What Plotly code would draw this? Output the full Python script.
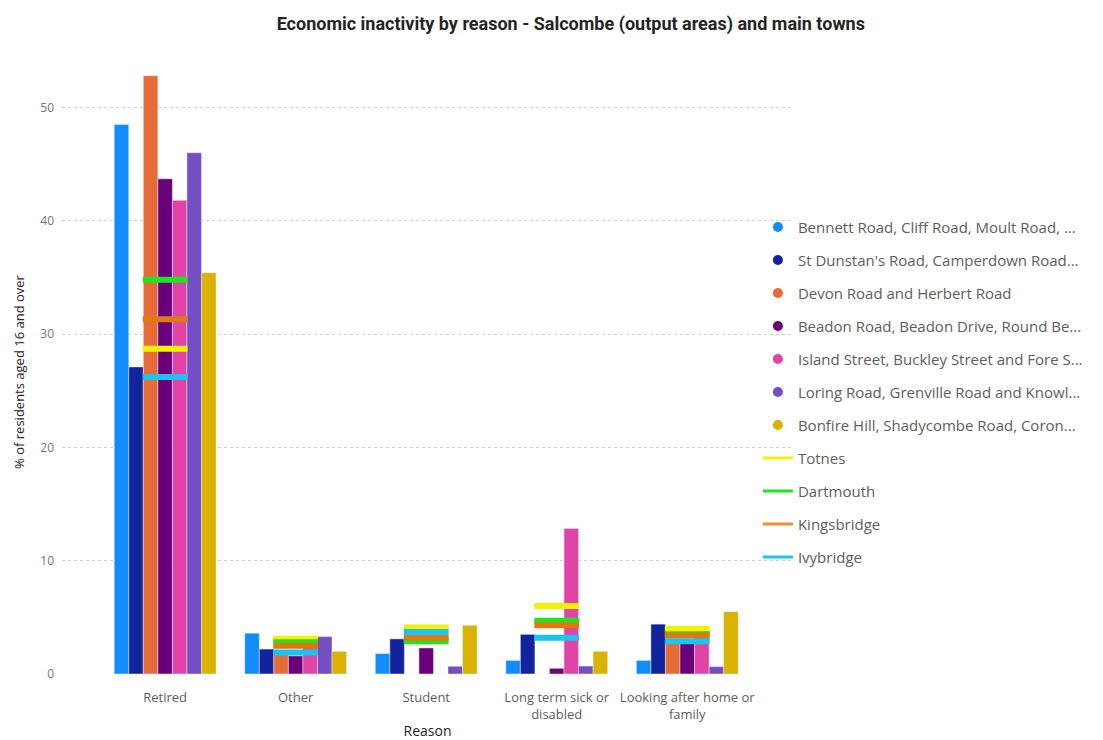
import plotly.graph_objects as go

categories = ["Retired", "Other", "Student", "Long term sick or<br>disabled", "Looking after home or<br>family"]

area_names = [
    "Bennett Road, Cliff Road, Moult Road, ...",
    "St Dunstan's Road, Camperdown Road...",
    "Devon Road and Herbert Road",
    "Beadon Road, Beadon Drive, Round Be...",
    "Island Street, Buckley Street and Fore S...",
    "Loring Road, Grenville Road and Knowl...",
    "Bonfire Hill, Shadycombe Road, Coron...",
]
area_colors = ["#118DFF", "#12239E", "#E66C37", "#6B007B", "#E044A7", "#744EC2", "#D9B300"]

bennett = [48.5, 3.6, 1.8, 1.2, 1.2]
st_dunstan = [27.1, 2.2, 3.1, 3.5, 4.4]
devon = [52.8, 2.1, 0.0, 0.0, 2.8]
beadon = [43.7, 1.6, 2.3, 0.5, 2.7]
island = [41.8, 2.9, 0.0, 12.85, 4.1]
loring = [46.0, 3.3, 0.68, 0.7, 0.65]
bonfire = [35.4, 2.0, 4.3, 2.0, 5.5]
area_values = [bennett, st_dunstan, devon, beadon, island, loring, bonfire]

town_names = ["Totnes", "Dartmouth", "Kingsbridge", "Ivybridge"]
town_colors = ["#F5F000", "#1EE51E", "#E07A10", "#1CC3EE"]
town_legend_colors = ["#F5F000", "#1EE51E", "#F08C34", "#1CC3EE"]
totnes = [28.7, 3.1, 4.1, 6.0, 4.0]
dartmouth = [34.8, 2.8, 2.9, 4.7, 3.5]
kingsbridge = [31.3, 2.5, 3.2, 4.3, 3.4]
ivybridge = [26.2, 1.9, 3.7, 3.2, 2.9]
town_values = [totnes, dartmouth, kingsbridge, ivybridge]

fig = go.Figure()

for name, color, vals in zip(area_names, area_colors, area_values):
    fig.add_trace(go.Bar(x=categories, y=vals, name=name, marker_color=color,
                         showlegend=False, legendgroup=name, offsetgroup=name))
    fig.add_trace(go.Scatter(x=[None], y=[None], mode="markers", name=name,
                             marker=dict(symbol="circle", size=10, color=color),
                             legendgroup=name, showlegend=True))

for name, color, lcolor, vals in zip(town_names, town_colors, town_legend_colors, town_values):
    fig.add_trace(go.Scatter(x=categories, y=vals, mode="markers", name=name,
                             marker=dict(symbol="line-ew", size=32,
                                         line=dict(width=6, color=color)),
                             showlegend=False, legendgroup=name))
    fig.add_trace(go.Scatter(x=[None], y=[None], mode="lines", name=name,
                             line=dict(color=lcolor, width=3),
                             legendgroup=name, showlegend=True))

fig.update_layout(
    width=1103, height=740,
    paper_bgcolor="white", plot_bgcolor="white",
    margin=dict(l=62, r=310, t=70, b=66),
    barmode="group", bargap=0.22, bargroupgap=0,
    title=dict(text="<b>Economic inactivity by reason - Salcombe (output areas) and main towns</b>",
               x=0.5175, xanchor="center", y=0.9685, yanchor="middle",
               font=dict(family="Roboto", size=18, color="#252423")),
    font=dict(family="Open Sans", color="#605E5C"),
    legend=dict(x=0.952, xanchor="left", xref="paper", y=0.767, yanchor="top",
                font=dict(family="Open Sans", size=15, color="#605E5C"),
                tracegroupgap=10.5, itemwidth=30, bgcolor="rgba(0,0,0,0)"),
    xaxis=dict(range=[-0.79, 4.81], showgrid=False, showline=False, ticks="",
               automargin=False, ticklabelstandoff=14,
               tickfont=dict(size=13, color="#605E5C"),
               title=dict(text="Reason", font=dict(size=14, color="#252423"), standoff=6)),
    yaxis=dict(range=[0, 53.3], dtick=10, showgrid=True, gridcolor="#D0D0D0",
               automargin=False,
               griddash="dot", gridwidth=1, zeroline=False, showline=False,
               tickfont=dict(size=12, color="#777777"), ticks="", ticklabelstandoff=7,
               title=dict(text="% of residents aged 16 and over",
                          font=dict(size=13, color="#252423"), standoff=12)),
)

fig.write_html("out.html", config={"displayModeBar": False},
               post_script="document.body.style.margin='0';")
